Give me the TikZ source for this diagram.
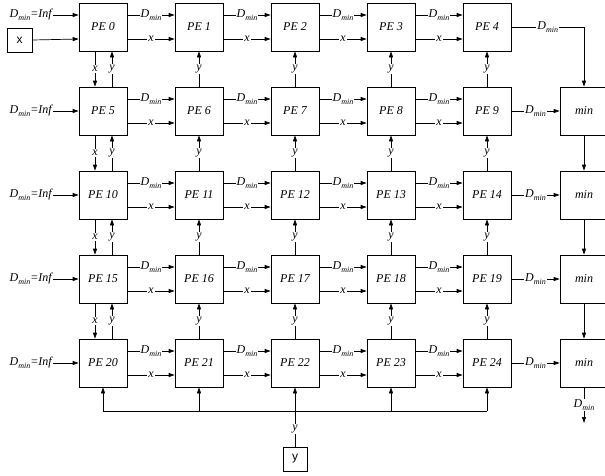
\documentclass[tikz,border=0pt]{standalone}
\usepackage{fontspec}
\setmainfont{Liberation Serif}
\newfontfamily\sansf{Liberation Sans}
\usetikzlibrary{arrows.meta,calc}
\newcommand\Dm{\textit{D}\raisebox{-0.45ex}{\fontsize{8}{8}\selectfont\textit{min}}}
\begin{document}
\begin{tikzpicture}[x=1pt,y=-1pt,
  font=\fontsize{12}{14}\selectfont\itshape,
  pe/.style={draw, line width=0.7pt, minimum width=48pt, minimum height=48pt, inner sep=0pt},
  minbox/.style={pe},
  iobox/.style={draw, line width=0.7pt, minimum width=25pt, minimum height=24pt, inner sep=0pt, font=\fontsize{12}{14}\selectfont\sansf\upshape},
  arr/.style={-{Triangle[length=6pt,width=4pt]}, line width=0.7pt},
  ln/.style={line width=0.7pt},
  lbl/.style={fill=white, inner sep=1pt}]
\useasboundingbox (0,0) rectangle (605,475);
% PE grid
\foreach \r in {0,...,4}{
  \foreach \c in {0,...,4}{
    \pgfmathtruncatemacro{\i}{5*\r+\c}
    \node[pe] (pe\i) at ({103+96*\c},{27+84*\r}) {PE \i};
  }
}
% min boxes
\foreach \r in {1,...,4}{
  \node[minbox] (min\r) at (584,{27+84*\r}) {min};
}
% inputs
\node[iobox] (xin) at (19.5,40) {x};
\node[anchor=east, inner sep=1pt] (inf0) at (53,15) {\Dm=\textit{Inf}};
\draw[arr] (inf0.east) -- ([yshift=12pt]pe0.west);
\draw[arr] (xin.east) -- ([yshift=-12pt]pe0.west);
\foreach \r in {1,...,4}{
  \pgfmathtruncatemacro{\i}{5*\r}
  \node[anchor=east, inner sep=1pt] (inf\r) at (53,{27+84*\r}) {\Dm=\textit{Inf}};
  \draw[arr] (inf\r.east) -- (pe\i.west);
}
% horizontal connections
\foreach \r in {0,...,4}{
  \foreach \c in {0,...,3}{
    \pgfmathtruncatemacro{\i}{5*\r+\c}
    \pgfmathtruncatemacro{\j}{5*\r+\c+1}
    \draw[arr] ([yshift=12pt]pe\i.east) -- node[lbl]{\Dm} ([yshift=12pt]pe\j.west);
    \draw[arr] ([yshift=-12pt]pe\i.east) -- node[lbl]{x} ([yshift=-12pt]pe\j.west);
  }
}
% vertical connections
\foreach \r in {0,...,3}{
  \pgfmathtruncatemacro{\a}{5*\r}
  \pgfmathtruncatemacro{\b}{5*\r+5}
  \draw[arr] ([xshift=-8pt]pe\a.south) -- node[lbl]{x} ([xshift=-8pt]pe\b.north);
  \draw[arr] ([xshift=9pt]pe\b.north) -- node[lbl]{y} ([xshift=9pt]pe\a.south);
  \foreach \c in {1,...,4}{
    \pgfmathtruncatemacro{\i}{5*\r+\c}
    \pgfmathtruncatemacro{\j}{5*\r+\c+5}
    \draw[arr] (pe\j.north) -- node[lbl]{y} (pe\i.south);
  }
}
% outputs to min boxes
\draw[arr] (pe4.east) -- node[lbl]{\Dm} (pe4.east -| min1.north) -- (min1.north);
\foreach \r in {1,...,4}{
  \pgfmathtruncatemacro{\i}{5*\r+4}
  \draw[arr] (pe\i.east) -- node[lbl]{\Dm} (min\r.west);
}
\foreach \r/\s in {1/2,2/3,3/4}{
  \draw[arr] (min\r.south) -- (min\s.north);
}
\coordinate (dout) at (584,423);
\draw[arr] (min4.south) -- node[lbl]{\Dm} (dout);
% bottom y bus
\node[iobox, minimum width=24pt] (yin) at (295,459) {y};
\coordinate (busL) at (103,411);
\coordinate (busR) at (487,411);
\draw[ln] (busL) -- (busR);
\draw[ln] (yin.north) -- node[lbl]{y} (yin.north |- busL);
\foreach \c in {20,...,24}{
  \draw[arr] (pe\c.south |- busL) -- (pe\c.south);
}
\end{tikzpicture}
\end{document}
